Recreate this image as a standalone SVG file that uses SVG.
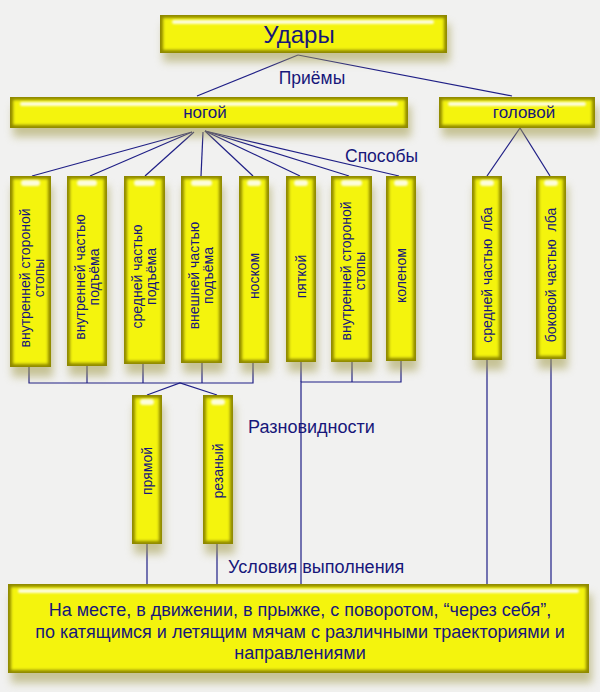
<svg xmlns="http://www.w3.org/2000/svg" width="600" height="692" viewBox="0 0 600 692">
<defs>
<filter id="sh" x="-60%" y="-60%" width="220%" height="220%"><feGaussianBlur stdDeviation="4.5"/></filter>
<filter id="soft" x="-40%" y="-40%" width="180%" height="180%"><feGaussianBlur stdDeviation="1.7"/></filter>
<filter id="hl" x="-40%" y="-100%" width="180%" height="300%"><feGaussianBlur stdDeviation="1"/></filter>
<style>
.bg{fill:#f1f1f0}
.shadow{fill:#a39c4c;opacity:.55;filter:url(#sh)}
.edge{fill:#8e8800}
.face{fill:#f4f40c;filter:url(#soft)}
.hi{fill:#ffffff;opacity:.85;filter:url(#hl)}
text{font-family:"Liberation Sans",Arial,sans-serif;fill:#17177a}
.t{font-size:14px;text-anchor:middle}
.lbl{font-size:17.5px}
.c line,.c polyline{stroke:#1f1f86;stroke-width:1.2;fill:none}
</style>
</defs>
<rect class="bg" x="0" y="0" width="600" height="692"/>

<g class="c" id="connectors">
<line x1="298" y1="55" x2="197" y2="96"/>
<line x1="298" y1="55" x2="512" y2="96"/>
<line x1="192" y1="132" x2="32" y2="176"/>
<line x1="192" y1="132" x2="90" y2="176"/>
<line x1="194" y1="132" x2="145" y2="176"/>
<line x1="203" y1="132" x2="201" y2="176"/>
<line x1="205" y1="131" x2="253" y2="176"/>
<line x1="205" y1="131" x2="300" y2="176"/>
<line x1="205" y1="131" x2="349" y2="176"/>
<line x1="205" y1="131" x2="399" y2="176"/>
<line x1="520" y1="128" x2="487" y2="176"/>
<line x1="520" y1="128" x2="550" y2="176"/>
<polyline points="29,367 29,383 253,383 253,363"/>
<line x1="87" y1="366" x2="87" y2="383"/>
<line x1="143" y1="364" x2="143" y2="383"/>
<line x1="202" y1="363" x2="202" y2="383"/>
<polyline points="147,395 180,383 217,395"/>
<polyline points="301,585 301,382 401,382 401,361"/>
<line x1="301" y1="362" x2="301" y2="382"/>
<line x1="352" y1="362" x2="352" y2="382"/>
<line x1="147" y1="544" x2="147" y2="585"/>
<line x1="217" y1="544" x2="217" y2="585"/>
<line x1="487" y1="360" x2="487" y2="585"/>
<line x1="551" y1="359" x2="551" y2="585"/>
</g>

<g id="udary">
<rect class="shadow" x="163" y="24" width="287" height="38"/>
<rect class="edge" x="160" y="15" width="287" height="38"/>
<rect class="face" x="163" y="18" width="281" height="32"/>
<rect class="hi" x="172" y="20" width="262" height="4" rx="2"/>
<text x="299" y="43" style="font-size:24px;text-anchor:middle">Удары</text>
</g>

<text class="lbl" x="312" y="84" text-anchor="middle">Приёмы</text>

<g id="nogoy">
<rect class="shadow" x="13" y="106" width="398" height="31"/>
<rect class="edge" x="10" y="97" width="398" height="31"/>
<rect class="face" x="13" y="100" width="392" height="25"/>
<rect class="hi" x="20" y="102" width="378" height="4" rx="2"/>
<text x="205" y="118" style="font-size:17px;text-anchor:middle">ногой</text>
</g>

<g id="golovoy">
<rect class="shadow" x="442" y="106" width="156" height="31"/>
<rect class="edge" x="439" y="97" width="156" height="31"/>
<rect class="face" x="442" y="100" width="150" height="25"/>
<rect class="hi" x="448" y="102" width="138" height="4" rx="2"/>
<text x="524" y="118" style="font-size:17px;text-anchor:middle">головой</text>
</g>

<text class="lbl" x="345" y="162">Способы</text>

<g id="col1">
<rect class="shadow" x="12" y="186" width="41" height="191"/>
<rect class="edge" x="10" y="176" width="41" height="191"/>
<rect class="face" x="13" y="179" width="35" height="185"/>
<rect class="hi" x="21" y="180" width="19" height="6" rx="3"/>
<text class="t" transform="translate(30.5,278) rotate(-90)"><tspan x="0" y="-1">внутренней стороной</tspan><tspan x="0" y="13">стопы</tspan></text>
</g>
<g id="col2">
<rect class="shadow" x="69" y="186" width="40" height="190"/>
<rect class="edge" x="67" y="176" width="40" height="190"/>
<rect class="face" x="70" y="179" width="34" height="184"/>
<rect class="hi" x="77" y="180" width="20" height="6" rx="3"/>
<text class="t" transform="translate(87,277) rotate(-90)"><tspan x="0" y="-2">внутренней частью</tspan><tspan x="0" y="12">подъёма</tspan></text>
</g>
<g id="col3">
<rect class="shadow" x="126" y="186" width="41" height="188"/>
<rect class="edge" x="124" y="176" width="41" height="188"/>
<rect class="face" x="127" y="179" width="35" height="182"/>
<rect class="hi" x="134" y="180" width="21" height="6" rx="3"/>
<text class="t" transform="translate(144.5,276.5) rotate(-90)"><tspan x="0" y="-3">средней частью</tspan><tspan x="0" y="11">подъёма</tspan></text>
</g>
<g id="col4">
<rect class="shadow" x="183" y="186" width="41" height="187"/>
<rect class="edge" x="181" y="176" width="41" height="187"/>
<rect class="face" x="184" y="179" width="35" height="181"/>
<rect class="hi" x="191" y="180" width="21" height="6" rx="3"/>
<text class="t" transform="translate(201.5,275.5) rotate(-90)"><tspan x="0" y="-3">внешней частью</tspan><tspan x="0" y="11">подъёма</tspan></text>
</g>
<g id="col5">
<rect class="shadow" x="241" y="186" width="30" height="187"/>
<rect class="edge" x="239" y="176" width="30" height="187"/>
<rect class="face" x="242" y="179" width="24" height="181"/>
<rect class="hi" x="247" y="180" width="14" height="6" rx="3"/>
<text class="t" transform="translate(254,276) rotate(-90)" y="4.5">носком</text>
</g>
<g id="col6">
<rect class="shadow" x="288" y="186" width="30" height="186"/>
<rect class="edge" x="286" y="176" width="30" height="186"/>
<rect class="face" x="289" y="179" width="24" height="180"/>
<rect class="hi" x="294" y="180" width="14" height="6" rx="3"/>
<text class="t" transform="translate(301,276.5) rotate(-90)" y="4.5">пяткой</text>
</g>
<g id="col7">
<rect class="shadow" x="333" y="186" width="41" height="186"/>
<rect class="edge" x="331" y="176" width="41" height="186"/>
<rect class="face" x="334" y="179" width="35" height="180"/>
<rect class="hi" x="341" y="180" width="21" height="6" rx="3"/>
<text class="t" transform="translate(351.5,271) rotate(-90)"><tspan x="0" y="-1">внутренней стороной</tspan><tspan x="0" y="13">стопы</tspan></text>
</g>
<g id="col8">
<rect class="shadow" x="388" y="186" width="30" height="185"/>
<rect class="edge" x="386" y="176" width="30" height="185"/>
<rect class="face" x="389" y="179" width="24" height="179"/>
<rect class="hi" x="394" y="180" width="14" height="6" rx="3"/>
<text class="t" transform="translate(401,275.5) rotate(-90)" y="4.5">коленом</text>
</g>
<g id="col9">
<rect class="shadow" x="474" y="186" width="30" height="184"/>
<rect class="edge" x="472" y="176" width="30" height="184"/>
<rect class="face" x="475" y="179" width="24" height="178"/>
<rect class="hi" x="480" y="180" width="14" height="6" rx="3"/>
<text class="t" transform="translate(487,275) rotate(-90)" y="4.5" xml:space="preserve">средней частью  лба</text>
</g>
<g id="col10">
<rect class="shadow" x="538" y="186" width="30" height="183"/>
<rect class="edge" x="536" y="176" width="30" height="183"/>
<rect class="face" x="539" y="179" width="24" height="177"/>
<rect class="hi" x="544" y="180" width="14" height="6" rx="3"/>
<text class="t" transform="translate(551,275) rotate(-90)" y="4.5" xml:space="preserve">боковой частью  лба</text>
</g>

<g id="pryamoy">
<rect class="shadow" x="134" y="405" width="30" height="149"/>
<rect class="edge" x="132" y="395" width="30" height="149"/>
<rect class="face" x="135" y="398" width="24" height="143"/>
<rect class="hi" x="140" y="399" width="14" height="6" rx="3"/>
<text class="t" transform="translate(147,471) rotate(-90)" y="4.5">прямой</text>
</g>
<g id="rezanyy">
<rect class="shadow" x="205" y="405" width="30" height="149"/>
<rect class="edge" x="203" y="395" width="30" height="149"/>
<rect class="face" x="206" y="398" width="24" height="143"/>
<rect class="hi" x="211" y="399" width="14" height="6" rx="3"/>
<text class="t" transform="translate(218,471) rotate(-90)" y="4.5">резаный</text>
</g>

<text class="lbl" x="248" y="433" style="font-size:18px">Разновидности</text>
<text class="lbl" x="228" y="573" style="font-size:18px">Условия выполнения</text>

<g id="conditions">
<rect class="shadow" x="11" y="594" width="581" height="89"/>
<rect class="edge" x="8" y="584" width="581" height="89"/>
<rect class="face" x="11" y="587" width="575" height="83"/>
<rect class="hi" x="18" y="589" width="561" height="4" rx="2"/>
<text style="font-size:18px;text-anchor:middle"><tspan x="300" y="616">На месте, в движении, в прыжке, с поворотом, “через себя”,</tspan><tspan x="300" y="638">по катящимся и летящим мячам с различными траекториями и</tspan><tspan x="300" y="659">направлениями</tspan></text>
</g>
</svg>
